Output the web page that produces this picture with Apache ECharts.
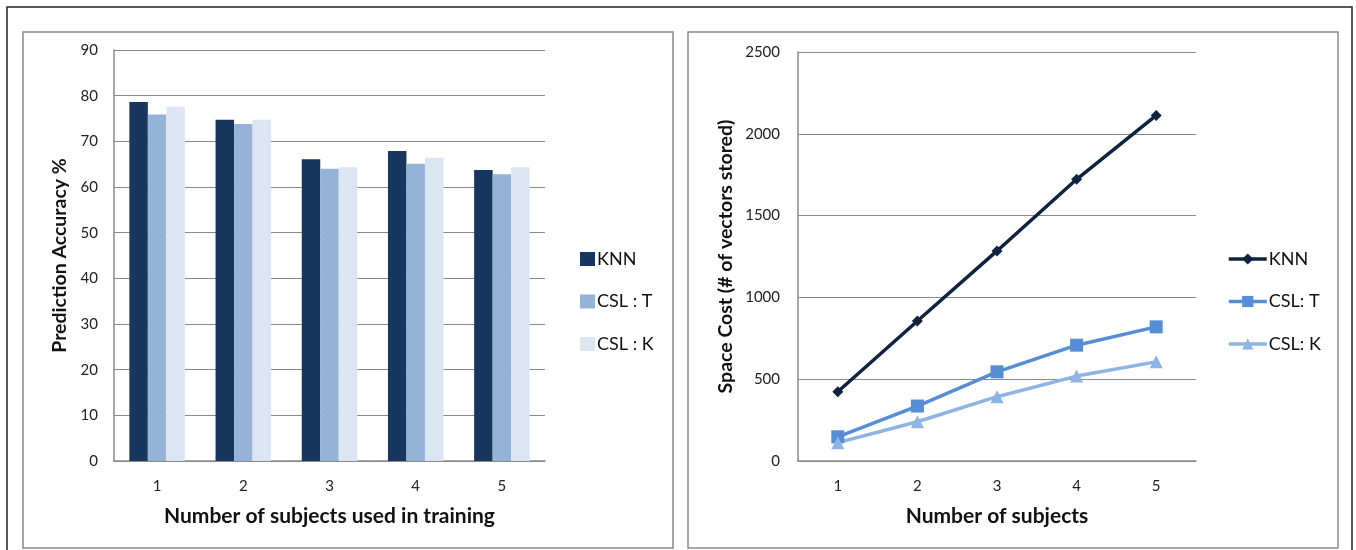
<!DOCTYPE html>
<html>
<head>
<meta charset="utf-8">
<script src="https://cdn.jsdelivr.net/npm/echarts@6/dist/echarts.min.js"></script>
<style>
  html, body { margin: 0; padding: 0; background: #fff; }
  #chart { width: 1356px; height: 550px; }
</style>
</head>
<body>
<div id="chart"></div>
<script>
// Training subjects (shared by both panels)
const subjects = ['1', '2', '3', '4', '5'];

// Prediction accuracy (%) per method
const accKNN  = [78.6, 74.7, 66.1, 67.9, 63.7];
const accCSLT = [75.9, 73.8, 64.0, 65.1, 62.8];
const accCSLK = [77.6, 74.7, 64.3, 66.4, 64.3];

// Space cost (# of vectors stored) per method
const costKNN  = [423, 856, 1284, 1722, 2112];
const costCSLT = [148, 336, 545, 708, 820];
const costCSLK = [112, 240, 393, 519, 606];

const FONT = 'Lato, "Open Sans", sans-serif';
const gridColor = '#8a8a8a';
const axisLabel = { color: '#222', fontSize: 15, fontFamily: FONT };
const xNameStyle = { color: '#111', fontSize: 21, fontWeight: 'bold', fontFamily: FONT };
const yNameStyle = { color: '#111', fontSize: 19.5, fontWeight: 'bold', fontFamily: FONT };
const legendText = { color: '#111', fontSize: 18, fontFamily: FONT };

const chart = echarts.init(document.getElementById('chart'), null, { renderer: 'canvas' });

chart.setOption({
  animation: false,
  backgroundColor: '#fff',
  graphic: [
    { type: 'rect', shape: { x: 7, y: 7, width: 1345, height: 600 }, style: { fill: 'none', stroke: '#222', lineWidth: 1.5 } },
    { type: 'rect', shape: { x: 23, y: 32, width: 650, height: 516 }, style: { fill: 'none', stroke: '#8c8c8c', lineWidth: 1.5 } },
    { type: 'rect', shape: { x: 688, y: 32, width: 650, height: 516 }, style: { fill: 'none', stroke: '#8c8c8c', lineWidth: 1.5 } }
  ],
  grid: [
    { left: 114, top: 50, width: 431, height: 411 },
    { left: 798, top: 52, width: 398, height: 409 }
  ],
  legend: [
    {
      data: ['KNN', 'CSL : T', 'CSL : K'],
      orient: 'vertical', left: 575, top: 245,
      icon: 'rect', itemWidth: 15, itemHeight: 14, itemGap: 24.5,
      textStyle: Object.assign({ padding: [0, 0, 0, -3] }, legendText)
    },
    {
      data: ['KNN ', 'CSL: T', 'CSL: K'],
      orient: 'vertical', left: 1222, top: 245,
      itemWidth: 38, itemHeight: 14, itemGap: 24.5,
      lineStyle: { width: 3.5 },
      textStyle: Object.assign({ padding: [0, 0, 0, -3] }, legendText)
    }
  ],
  xAxis: [
    {
      type: 'category', gridIndex: 0, data: subjects,
      axisTick: { show: false },
      axisLine: { lineStyle: { color: gridColor, width: 1.5 } },
      axisLabel: Object.assign({ margin: 18 }, axisLabel),
      name: 'Number of subjects used in training', nameLocation: 'middle', nameGap: 45,
      nameTextStyle: xNameStyle
    },
    {
      type: 'category', gridIndex: 1, data: subjects,
      axisTick: { show: false },
      axisLine: { lineStyle: { color: gridColor, width: 1.5 } },
      axisLabel: Object.assign({ margin: 18 }, axisLabel),
      name: 'Number of subjects', nameLocation: 'middle', nameGap: 45,
      nameTextStyle: xNameStyle
    }
  ],
  yAxis: [
    {
      type: 'value', gridIndex: 0, min: 0, max: 90, interval: 10,
      axisLine: { show: true, lineStyle: { color: gridColor, width: 1.5 } },
      axisTick: { show: false },
      splitLine: { lineStyle: { color: gridColor, width: 1.2 } },
      axisLabel: Object.assign({ margin: 16 }, axisLabel),
      name: 'Prediction Accuracy %', nameLocation: 'middle', nameGap: 44,
      nameTextStyle: yNameStyle
    },
    {
      type: 'value', gridIndex: 1, min: 0, max: 2500, interval: 500,
      axisLine: { show: true, lineStyle: { color: gridColor, width: 1.5 } },
      axisTick: { show: false },
      splitLine: { lineStyle: { color: gridColor, width: 1.2 } },
      axisLabel: Object.assign({ margin: 18, formatter: v => String(v) }, axisLabel),
      name: 'Space Cost (# of vectors stored)', nameLocation: 'middle', nameGap: 62,
      nameTextStyle: yNameStyle
    }
  ],
  series: [
    { name: 'KNN', type: 'bar', xAxisIndex: 0, yAxisIndex: 0, data: accKNN,
      barWidth: 18.5, barGap: '0%', itemStyle: { color: '#17375E' } },
    { name: 'CSL : T', type: 'bar', xAxisIndex: 0, yAxisIndex: 0, data: accCSLT,
      barWidth: 18.5, barGap: '0%', itemStyle: { color: '#95B3D7' } },
    { name: 'CSL : K', type: 'bar', xAxisIndex: 0, yAxisIndex: 0, data: accCSLK,
      barWidth: 18.5, barGap: '0%', itemStyle: { color: '#DCE6F2' } },

    { name: 'KNN ', type: 'line', xAxisIndex: 1, yAxisIndex: 1, data: costKNN,
      symbol: 'diamond', symbolSize: 11,
      lineStyle: { color: '#0F2340', width: 3.5 }, itemStyle: { color: '#0F2340' } },
    { name: 'CSL: T', type: 'line', xAxisIndex: 1, yAxisIndex: 1, data: costCSLT,
      symbol: 'rect', symbolSize: 13,
      lineStyle: { color: '#558ED5', width: 3.5 }, itemStyle: { color: '#558ED5' } },
    { name: 'CSL: K', type: 'line', xAxisIndex: 1, yAxisIndex: 1, data: costCSLK,
      symbol: 'triangle', symbolSize: 13,
      lineStyle: { color: '#8EB4E3', width: 3.5 }, itemStyle: { color: '#8EB4E3' } }
  ]
});
</script>
</body>
</html>
